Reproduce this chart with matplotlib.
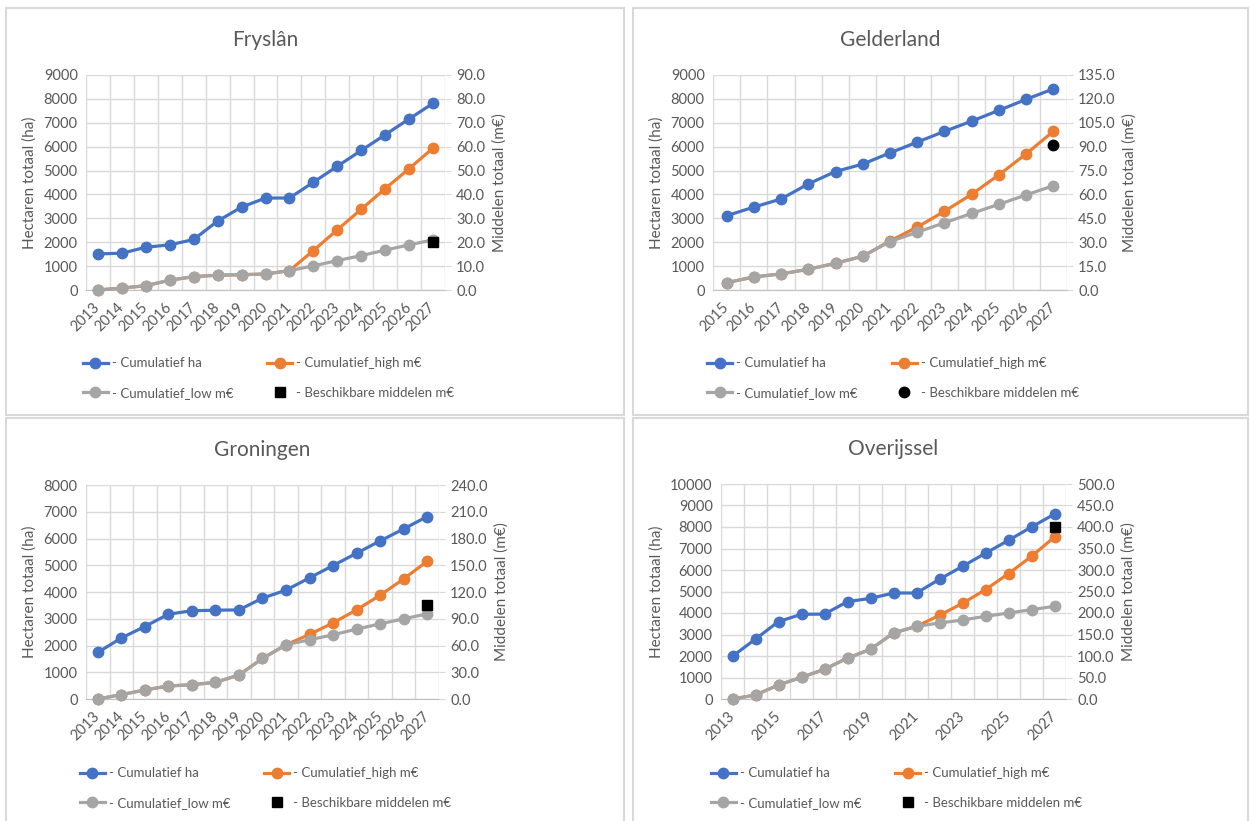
import numpy as np
import matplotlib
matplotlib.use('Agg')
import matplotlib.pyplot as plt
from matplotlib.lines import Line2D
from matplotlib.patches import Rectangle

plt.rcParams['font.family'] = ['Lato', 'DejaVu Sans']

# --- data -----------------------------------------------------------------
fryslan_years = list(range(2013, 2028))
fryslan_ha = [1510, 1540, 1790, 1890, 2115, 2885, 3470, 3850, 3850, 4510, 5180, 5840, 6500, 7160, 7815]
fryslan_high = [0.0, 0.8, 1.8, 4.1, 5.6, 6.2, 6.4, 6.7, 8.1, 16.5, 25.2, 33.8, 42.4, 50.8, 59.4]
fryslan_low = [0.0, 0.8, 1.8, 4.1, 5.6, 6.2, 6.4, 6.7, 8.1, 10.1, 12.3, 14.4, 16.7, 18.9, 21.0]
fryslan_budget = 20.0

gelderland_years = list(range(2015, 2028))
gelderland_ha = [3110, 3470, 3810, 4440, 4960, 5270, 5740, 6190, 6640, 7070, 7520, 7980, 8420]
gelderland_high = [4.6, 8.2, 10.1, 13.0, 16.8, 21.2, 30.8, 39.5, 49.4, 60.1, 72.3, 85.5, 99.6]
gelderland_low = [4.6, 8.2, 10.1, 13.0, 16.8, 21.2, 30.4, 36.3, 42.2, 48.1, 53.8, 59.7, 65.5]
gelderland_budget = 91.2

groningen_years = list(range(2013, 2028))
groningen_ha = [1740, 2280, 2710, 3170, 3300, 3320, 3330, 3770, 4070, 4530, 4990, 5450, 5910, 6360, 6820]
groningen_high = [0.0, 4.9, 10.1, 14.6, 16.0, 18.7, 26.9, 45.5, 60.8, 72.4, 85.4, 100.0, 116.4, 134.7, 154.5]
groningen_low = [0.0, 4.9, 10.1, 14.6, 16.0, 18.7, 26.9, 45.5, 60.8, 66.4, 72.0, 78.4, 84.3, 89.9, 95.5]
groningen_budget = 105.0

overijssel_years = list(range(2013, 2028))
overijssel_ha = [1985, 2790, 3600, 3940, 3950, 4530, 4680, 4930, 4930, 5570, 6170, 6780, 7380, 8000, 8600]
overijssel_high = [0.0, 9.3, 32.6, 50.4, 69.0, 95.3, 115.5, 153.5, 169.0, 194.6, 222.5, 254.3, 291.5, 331.8, 376.7]
overijssel_low = [0.0, 9.3, 32.6, 50.4, 69.0, 95.3, 115.5, 153.5, 169.0, 176.7, 183.7, 192.2, 200.0, 207.8, 215.5]
overijssel_budget = 400.0

labels = ['- Cumulatief ha', '- Cumulatief_high m€', '- Cumulatief_low m€', '- Beschikbare middelen m€']

BLUE = '#4472C4'
ORANGE = '#ED7D31'
GRAY = '#A5A5A5'
TEXT = '#595959'
GRID = '#D9D9D9'
LW, MS = 2.3, 7.5

W, H = 1250, 821
fig = plt.figure(figsize=(W / 100, H / 100), dpi=100)

# panel frames (pixels: left, top, right, bottom)
for l, t, r, b in [(6, 8, 624, 415), (633, 8, 1248, 415), (6, 418, 624, 830), (633, 418, 1248, 830)]:
    fig.add_artist(Rectangle((l / W, 1 - b / H), (r - l) / W, (b - t) / H, transform=fig.transFigure,
                             facecolor='white', edgecolor=GRID, lw=1.5, zorder=-10))


def panel(box, title, years, ha, high, low, budget, ha_max, ha_step, m_max, m_step, bmarker, every, leg_y):
    l, t, r, b = box
    ax = fig.add_axes([l / W, 1 - b / H, (r - l) / W, (b - t) / H])
    ax2 = ax.twinx()
    x = np.arange(len(years))
    bms = MS if bmarker == 'o' else 7

    ax.plot(x, ha, color=BLUE, lw=LW, marker='o', ms=MS, zorder=3, clip_on=False)
    ax2.plot(x, high, color=ORANGE, lw=LW, marker='o', ms=MS, clip_on=False)
    ax2.plot(x, low, color=GRAY, lw=LW, marker='o', ms=MS, clip_on=False)
    ax2.plot([x[-1]], [budget], color='black', ls='none', marker=bmarker, ms=bms, clip_on=False)

    ax.set_xlim(-0.5, len(years) - 0.5)
    ax.set_ylim(0, ha_max)
    ax2.set_ylim(0, m_max)
    ax.set_yticks(np.arange(0, ha_max + 1, ha_step))
    ax2.set_yticks(np.arange(0, m_max + 0.01, m_step))
    ax2.set_yticklabels(['%.1f' % v for v in np.arange(0, m_max + 0.01, m_step)])

    ax.set_xticks(x[::every])
    ax.set_xticklabels([str(y) for y in years[::every]], rotation=45, ha='right', va='center',
                       rotation_mode='anchor')
    ax.set_xticks(np.arange(-0.5, len(years)), minor=True)
    ax.grid(True, which='minor', axis='x', color=GRID, lw=1)
    ax.grid(True, which='major', axis='y', color=GRID, lw=1)
    ax.set_axisbelow(True)

    for a in (ax, ax2):
        for s in a.spines.values():
            s.set_visible(False)
        a.tick_params(colors=TEXT, labelsize=10.5)
    ax.spines['bottom'].set_visible(True)
    ax.spines['bottom'].set_color('#BFBFBF')
    ax.tick_params(axis='x', which='both', length=0, pad=11)
    ax.tick_params(axis='y', length=0, pad=6)
    ax2.tick_params(axis='y', length=4, color=GRID, pad=4)

    ax.set_ylabel('Hectaren totaal (ha)', color=TEXT, fontsize=11, labelpad=5)
    ax2.set_ylabel('Middelen totaal (m€)', color=TEXT, fontsize=11, labelpad=5)
    fig.text((l + r) / 2 / W, 1 - (t - 35) / H, title, ha='center', va='center', fontsize=15, color=TEXT)

    handles = [Line2D([], [], color=BLUE, lw=LW, marker='o', ms=MS),
               Line2D([], [], color=GRAY, lw=LW, marker='o', ms=MS),
               Line2D([], [], color=ORANGE, lw=LW, marker='o', ms=MS),
               Line2D([], [], color='black', ls='none', marker=bmarker, ms=bms)]
    ax2.legend(handles, [labels[0], labels[2], labels[1], labels[3]], ncol=2, loc='center',
               bbox_to_anchor=((l + r) / 2 / W + 3 / W, 1 - leg_y / H), bbox_transform=fig.transFigure,
               frameon=False, fontsize=9.5, labelcolor=TEXT, handlelength=1.9, handletextpad=0.3,
               columnspacing=2.6, labelspacing=1.3)


panel((86, 75, 445, 290), 'Fryslân', fryslan_years, fryslan_ha, fryslan_high, fryslan_low,
      fryslan_budget, 9000, 1000, 90, 10, 's', 1, 378)
panel((713, 75, 1067, 290), 'Gelderland', gelderland_years, gelderland_ha, gelderland_high, gelderland_low,
      gelderland_budget, 9000, 1000, 135, 15, 'o', 1, 378)
panel((86, 485, 439, 699), 'Groningen', groningen_years, groningen_ha, groningen_high, groningen_low,
      groningen_budget, 8000, 1000, 240, 30, 's', 1, 788)
panel((721, 484, 1066, 699), 'Overijssel', overijssel_years, overijssel_ha, overijssel_high, overijssel_low,
      overijssel_budget, 10000, 1000, 500, 50, 's', 2, 788)

fig.savefig('out.png', dpi=100)
